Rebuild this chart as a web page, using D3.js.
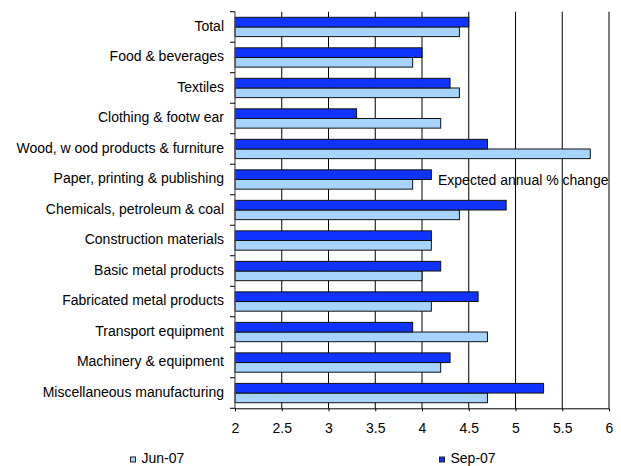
<!DOCTYPE html>
<html>
<head>
<meta charset="utf-8">
<script src="https://cdn.jsdelivr.net/npm/d3@7/dist/d3.min.js"></script>
<style>
  html, body { margin: 0; padding: 0; background: #fff; }
  svg { display: block; font-family: "Liberation Sans", Arial, sans-serif; }
</style>
</head>
<body>
<svg id="chart" width="621" height="466"></svg>
<script>
// Manufacturing industries, top to bottom
const categories = [
  "Total",
  "Food & beverages",
  "Textiles",
  "Clothing & footw ear",
  "Wood, w ood products & furniture",
  "Paper, printing & publishing",
  "Chemicals, petroleum & coal",
  "Construction materials",
  "Basic metal products",
  "Fabricated metal products",
  "Transport equipment",
  "Machinery & equipment",
  "Miscellaneous manufacturing"
];

// Expected annual % change, by survey
const jun07 = [4.4, 3.9, 4.4, 4.2, 5.8, 3.9, 4.4, 4.1, 4.0, 4.1, 4.7, 4.2, 4.7];
const sep07 = [4.5, 4.0, 4.3, 3.3, 4.7, 4.1, 4.9, 4.1, 4.2, 4.6, 3.9, 4.3, 5.3];

const seriesNames = ["Jun-07", "Sep-07"];
const xTicks = [2, 2.5, 3, 3.5, 4, 4.5, 5, 5.5, 6];
const annotation = "Expected annual % change";

const series = [
  { name: seriesNames[0], values: jun07, fill: "#a6d3ff" },
  { name: seriesNames[1], values: sep07, fill: "#1133ff" }
];

const FONT = 14;
const svg = d3.select("#chart");
const plotLeft = 235, plotRight = 609, plotTop = 11.7, plotBottom = 408.3;

const x = d3.scaleLinear().domain([2, 6]).range([plotLeft, plotRight]);
const y = d3.scaleBand().domain(categories).range([plotTop, plotBottom]).padding(0);
// Sep-07 sits above Jun-07 inside each category band
const ySub = d3.scaleBand()
  .domain([seriesNames[1], seriesNames[0]])
  .range([0, y.bandwidth()])
  .paddingInner(0)
  .paddingOuter(0.58);

// Vertical gridlines
svg.append("g")
  .selectAll("line")
  .data(xTicks.slice(1))
  .join("line")
  .attr("x1", d => x(d)).attr("x2", d => x(d))
  .attr("y1", plotTop).attr("y2", plotBottom)
  .attr("stroke", "#000").attr("stroke-width", 1);

// Bars
const rows = svg.append("g")
  .selectAll("g")
  .data(categories)
  .join("g")
  .attr("transform", d => `translate(0,${y(d)})`);

rows.selectAll("rect")
  .data((c, i) => series.map(s => ({ name: s.name, value: s.values[i], fill: s.fill })))
  .join("rect")
  .attr("x", x(2))
  .attr("y", d => ySub(d.name))
  .attr("width", d => x(d.value) - x(2))
  .attr("height", ySub.bandwidth())
  .attr("fill", d => d.fill)
  .attr("stroke", "#111")
  .attr("stroke-width", 1);

// Left category axis
const yAxis = svg.append("g").attr("transform", `translate(${plotLeft},0)`);
yAxis.append("line")
  .attr("x1", 0).attr("x2", 0).attr("y1", plotTop).attr("y2", plotBottom)
  .attr("stroke", "#555").attr("stroke-width", 1.2);
yAxis.selectAll("line.tick")
  .data(categories.map(c => y(c)).concat([plotBottom]))
  .join("line")
  .attr("class", "tick")
  .attr("x1", -5).attr("x2", 0)
  .attr("y1", d => d).attr("y2", d => d)
  .attr("stroke", "#000");
yAxis.selectAll("text")
  .data(categories)
  .join("text")
  .attr("x", -11)
  .attr("y", d => y(d) + y.bandwidth() / 2)
  .attr("dy", "0.28em")
  .attr("text-anchor", "end")
  .attr("font-size", FONT)
  .attr("fill", "#000")
  .text(d => d);

// Bottom value axis
const xAxis = d3.axisBottom(x)
  .tickValues(xTicks)
  .tickFormat(d3.format("~g"))
  .tickSize(3)
  .tickPadding(12);
const gx = svg.append("g")
  .attr("transform", `translate(0,${plotBottom})`)
  .call(xAxis);
gx.select(".domain").attr("stroke", "#000").attr("d", `M${plotLeft},0.5H${plotRight}`);
gx.selectAll(".tick line").attr("stroke", "#000");
gx.selectAll(".tick text").attr("font-size", FONT).attr("fill", "#000")
  .attr("font-family", "'Liberation Sans', Arial, sans-serif");

// Annotation inside the plot
svg.append("text")
  .attr("x", 438).attr("y", 184.5)
  .attr("font-size", FONT)
  .attr("fill", "#000")
  .text(annotation);

// Legend
const legendX = [130.5, 439.5];
const legend = svg.append("g")
  .selectAll("g")
  .data(series)
  .join("g")
  .attr("transform", (d, i) => `translate(${legendX[i]},457)`);
legend.append("rect")
  .attr("x", 0).attr("y", 0)
  .attr("width", 5).attr("height", 5)
  .attr("fill", d => d.fill)
  .attr("stroke", "#222");
legend.append("text")
  .attr("x", 11).attr("y", 6.3)
  .attr("font-size", FONT)
  .attr("fill", "#000")
  .text(d => d.name);
</script>
</body>
</html>
